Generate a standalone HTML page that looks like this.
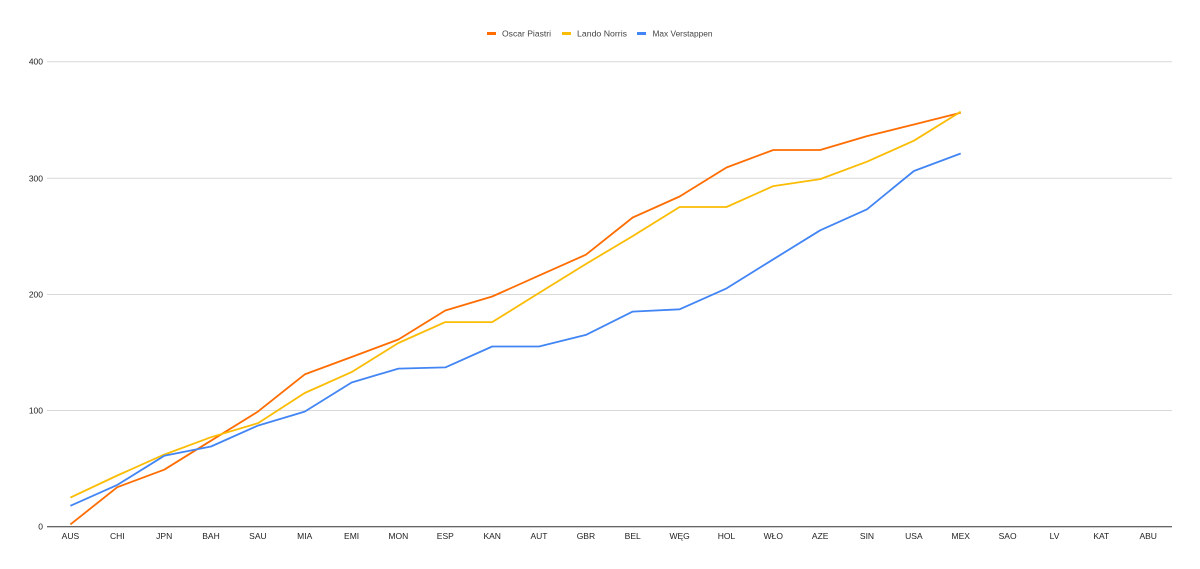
<!DOCTYPE html>
<html><head><meta charset="utf-8"><style>
html,body{margin:0;padding:0;background:#fff;}
svg{display:block;font-family:"Liberation Sans",Arial,sans-serif;}
</style></head><body>
<svg width="1200" height="569" viewBox="0 0 1200 569" xmlns="http://www.w3.org/2000/svg">
<rect width="1200" height="569" fill="#fff"/>
<!-- legend -->
<rect x="487" y="32" width="9" height="3" fill="#ff6d01"/>
<text x="502" y="36.5" font-size="8.6" fill="#444" textLength="49" lengthAdjust="spacingAndGlyphs">Oscar Piastri</text>
<rect x="562" y="32" width="9" height="3" fill="#fbbc04"/>
<text x="577" y="36.5" font-size="8.6" fill="#444" textLength="50" lengthAdjust="spacingAndGlyphs">Lando Norris</text>
<rect x="637" y="32" width="9" height="3" fill="#4285f4"/>
<text x="652.5" y="36.5" font-size="8.6" fill="#444" textLength="60" lengthAdjust="spacingAndGlyphs">Max Verstappen</text>
<!-- grid -->
<g stroke="#d9d9d9" stroke-width="1">
<line x1="47" y1="61.7" x2="1172" y2="61.7"/>
<line x1="47" y1="178.3" x2="1172" y2="178.3"/>
<line x1="47" y1="294.5" x2="1172" y2="294.5"/>
<line x1="47" y1="410.5" x2="1172" y2="410.5"/>
</g>
<line x1="47" y1="526.7" x2="1172" y2="526.7" stroke="#333" stroke-width="1"/>
<!-- y labels -->
<g font-size="8.5" fill="#222" text-anchor="end">
<text x="43" y="64.7">400</text>
<text x="43" y="181.3">300</text>
<text x="43" y="297.5">200</text>
<text x="43" y="413.5">100</text>
<text x="43" y="529.7">0</text>
</g>
<!-- x labels -->
<g font-size="8.5" fill="#222" text-anchor="middle">
<text x="70.4" y="539">AUS</text>
<text x="117.3" y="539">CHI</text>
<text x="164.2" y="539">JPN</text>
<text x="211.0" y="539">BAH</text>
<text x="257.9" y="539">SAU</text>
<text x="304.7" y="539">MIA</text>
<text x="351.6" y="539">EMI</text>
<text x="398.4" y="539">MON</text>
<text x="445.3" y="539">ESP</text>
<text x="492.2" y="539">KAN</text>
<text x="539.0" y="539">AUT</text>
<text x="585.9" y="539">GBR</text>
<text x="632.7" y="539">BEL</text>
<text x="679.6" y="539">WĘG</text>
<text x="726.5" y="539">HOL</text>
<text x="773.3" y="539">WŁO</text>
<text x="820.2" y="539">AZE</text>
<text x="867.0" y="539">SIN</text>
<text x="913.9" y="539">USA</text>
<text x="960.7" y="539">MEX</text>
<text x="1007.6" y="539">SAO</text>
<text x="1054.5" y="539">LV</text>
<text x="1101.3" y="539">KAT</text>
<text x="1148.2" y="539">ABU</text>
</g>
<!-- series -->
<g fill="none" stroke-width="1.8" stroke-linejoin="round">
<polyline stroke="#ff6d01" points="70.4,524.4 117.3,487.2 164.2,469.7 211.0,440.7 257.9,411.6 304.7,374.4 351.6,357.0 398.4,339.5 445.3,310.5 492.2,296.5 539.0,275.6 585.9,254.7 632.7,217.5 679.6,196.5 726.5,167.5 773.3,150.0 820.2,150.0 867.0,136.1 913.9,124.5 960.7,112.8"/>
<polyline stroke="#fbbc04" points="70.4,497.6 117.3,475.5 164.2,454.6 211.0,437.2 257.9,423.2 304.7,393.0 351.6,372.1 398.4,343.0 445.3,322.1 492.2,322.1 539.0,293.0 585.9,264.0 632.7,236.1 679.6,207.0 726.5,207.0 773.3,186.1 820.2,179.1 867.0,161.7 913.9,140.7 960.7,111.7"/>
<polyline stroke="#4285f4" points="70.4,505.8 117.3,484.9 164.2,455.8 211.0,446.5 257.9,425.6 304.7,411.6 351.6,382.5 398.4,368.6 445.3,367.4 492.2,346.5 539.0,346.5 585.9,334.9 632.7,311.6 679.6,309.3 726.5,288.4 773.3,259.3 820.2,230.3 867.0,209.3 913.9,171.0 960.7,153.5"/>
</g>
</svg>
</body></html>
